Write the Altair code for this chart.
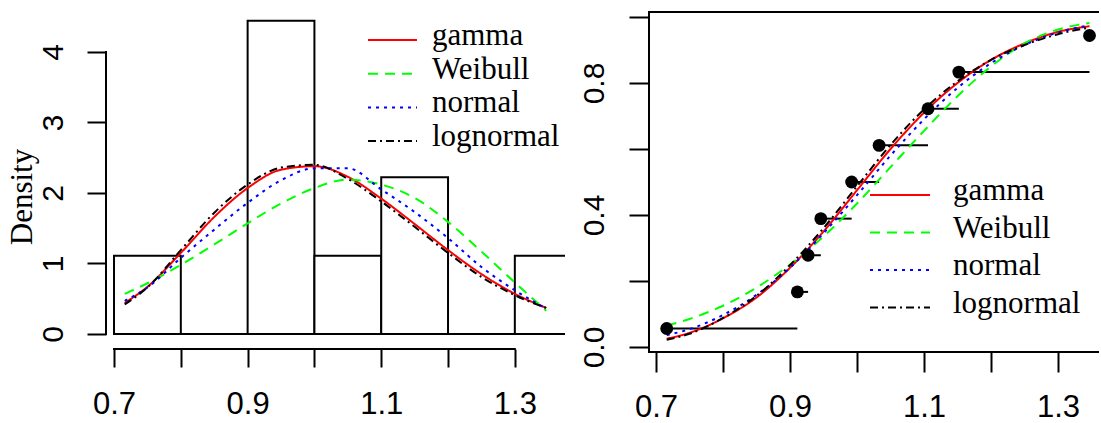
import altair as alt
import pandas as pd

# ---------------- data ----------------
series = ["gamma", "Weibull", "normal", "lognormal"]
series_colors = ["#FF0000", "#00FF00", "#0000FF", "#000000"]
series_dashes = [[1, 0], [10, 7], [3, 5], [8, 4, 2, 4]]

# histogram (density scale)
bin_start = [0.7, 0.8, 0.9, 1.0, 1.1, 1.2, 1.3]
bin_end = [0.8, 0.9, 1.0, 1.1, 1.2, 1.3, 1.4]
bin_density = [1.111, 0.0, 4.444, 1.111, 2.222, 0.0, 1.111]

# fitted densities / cdfs read at these x positions
curve_x = [0.716, 0.75, 0.8, 0.85, 0.9, 0.95, 1.0, 1.05, 1.1, 1.15, 1.2, 1.25, 1.3, 1.347]
dens_gamma = [0.44, 0.67, 1.15, 1.66, 2.07, 2.33, 2.38, 2.23, 1.92, 1.56, 1.19, 0.85, 0.57, 0.37]
dens_weibull = [0.57, 0.72, 0.98, 1.27, 1.57, 1.85, 2.07, 2.19, 2.12, 1.93, 1.59, 1.17, 0.73, 0.33]
dens_normal = [0.47, 0.66, 1.08, 1.48, 1.86, 2.18, 2.35, 2.35, 2.05, 1.73, 1.36, 0.95, 0.62, 0.36]
dens_lognormal = [0.42, 0.66, 1.19, 1.72, 2.12, 2.36, 2.40, 2.20, 1.88, 1.52, 1.15, 0.81, 0.55, 0.37]

cdf_gamma = [0.025, 0.043, 0.087, 0.150, 0.240, 0.350, 0.475, 0.600, 0.710, 0.800, 0.870, 0.920, 0.955, 0.972]
cdf_weibull = [0.065, 0.085, 0.125, 0.180, 0.250, 0.335, 0.435, 0.545, 0.655, 0.760, 0.850, 0.920, 0.962, 0.982]
cdf_normal = [0.036, 0.054, 0.097, 0.158, 0.240, 0.345, 0.460, 0.580, 0.690, 0.785, 0.860, 0.915, 0.953, 0.975]
cdf_lognormal = [0.022, 0.040, 0.088, 0.155, 0.248, 0.360, 0.487, 0.612, 0.720, 0.805, 0.870, 0.915, 0.948, 0.968]

# empirical points
obs_x = [0.716, 0.911, 0.927, 0.946, 0.992, 1.033, 1.106, 1.152, 1.347]
obs_p = [0.056, 0.167, 0.278, 0.389, 0.500, 0.611, 0.722, 0.833, 0.944]

x_ticks = [0.7, 0.8, 0.9, 1.0, 1.1, 1.2, 1.3]
dens_ticks = [0, 1, 2, 3, 4]
cdf_ticks = [0.0, 0.2, 0.4, 0.6, 0.8, 1.0]

# ---------------- tables ----------------
hist_df = pd.DataFrame({"start": bin_start, "end": bin_end, "density": bin_density})

dens_vals = [dens_gamma, dens_weibull, dens_normal, dens_lognormal]
cdf_vals = [cdf_gamma, cdf_weibull, cdf_normal, cdf_lognormal]
dens_df = pd.DataFrame([
    {"dist": s, "x": x, "y": v, "order": i}
    for s, vals in zip(series, dens_vals)
    for i, (x, v) in enumerate(zip(curve_x, vals))
])
cdf_df = pd.DataFrame([
    {"dist": s, "x": x, "y": v, "order": i}
    for s, vals in zip(series, cdf_vals)
    for i, (x, v) in enumerate(zip(curve_x, vals))
])
pts_df = pd.DataFrame({"x": obs_x, "p": obs_p})
seg_df = pd.DataFrame({"x0": obs_x[:-1], "x1": obs_x[1:], "p": obs_p[:-1]})

# ---------------- layout ----------------
LW, LH = 459, 337          # left plot area
RW, RH = 452, 340          # right plot area
FONT_SANS = "Liberation Sans"
FONT_SERIF = "Liberation Serif"

color_scale = alt.Scale(domain=series, range=series_colors)
dash_scale = alt.Scale(domain=series, range=series_dashes)

lx = alt.Scale(domain=[0.688, 1.3751], nice=False, zero=False)
ly = alt.Scale(domain=[-0.2128, 4.567], nice=False, zero=False)
rx = alt.Scale(domain=[0.68955, 1.36418], nice=False, zero=False)
ry = alt.Scale(domain=[-0.01515, 1.01515], nice=False, zero=False)


def x_axis(tick, pad):
    return alt.Axis(values=x_ticks, format=".1f",
                    labelExpr="round(datum.value*10) % 2 == 1 ? datum.label : ''",
                    domain=False, grid=False, tickSize=tick, tickWidth=2,
                    tickColor="black", labelFont=FONT_SANS, labelFontSize=31,
                    labelColor="black", labelPadding=pad, title=None,
                    labelFlush=False, labelOverlap=False)


left_x_axis = x_axis(18, 22)
right_x_axis = x_axis(20, 20)

left_y_axis = alt.Axis(values=dens_ticks, format="d", domain=False, grid=False,
                       tickSize=19, tickWidth=2, tickColor="black",
                       labelAngle=270, labelAlign="center", labelBaseline="middle",
                       labelFont=FONT_SANS, labelFontSize=30, labelColor="black",
                       labelPadding=34, title=None, labelFlush=False, labelOverlap=False)

right_y_axis = alt.Axis(values=cdf_ticks, format=".1f",
                        labelExpr="round(datum.value*10) % 4 == 0 ? datum.label : ''",
                        domain=False, grid=False,
                        tickSize=20, tickWidth=2, tickColor="black",
                        labelAngle=270, labelAlign="center", labelBaseline="middle",
                        labelFont=FONT_SANS, labelFontSize=30, labelColor="black",
                        labelPadding=35, title=None, labelFlush=False, labelOverlap=False)

one = pd.DataFrame({"k": [0]})

# ---------------- left panel: histogram + densities ----------------
bars = alt.Chart(hist_df).mark_rect(fill="white", stroke="black", strokeWidth=2,
                                    clip=True).encode(
    x=alt.X("start:Q", scale=lx, axis=left_x_axis),
    x2="end:Q",
    y=alt.Y("density:Q", scale=ly, axis=left_y_axis),
    y2=alt.Y2(datum=0),
)

dens_lines = alt.Chart(dens_df).mark_line(strokeWidth=2, interpolate="monotone").encode(
    x=alt.X("x:Q", scale=lx, axis=left_x_axis),
    y=alt.Y("y:Q", scale=ly, axis=left_y_axis),
    color=alt.Color("dist:N", scale=color_scale, legend=None),
    strokeDash=alt.StrokeDash("dist:N", scale=dash_scale, legend=None),
    order="order:Q",
)

axis_lines_df = pd.DataFrame({"x0": [x_ticks[0]], "x1": [x_ticks[-1]],
                              "y0": [dens_ticks[0]], "y1": [dens_ticks[-1]]})
left_xline = alt.Chart(axis_lines_df).mark_rule(color="black", strokeWidth=2,
                                                strokeCap="square").encode(
    x=alt.X("x0:Q", scale=lx, axis=left_x_axis), x2="x1:Q", y=alt.value(LH))
left_yline = alt.Chart(axis_lines_df).mark_rule(color="black", strokeWidth=2,
                                                strokeCap="square").encode(
    x=alt.value(0), y=alt.Y("y0:Q", scale=ly, axis=left_y_axis), y2="y1:Q")

density_title = alt.Chart(pd.DataFrame({"t": ["Density"]})).mark_text(
    angle=270, font=FONT_SERIF, fontSize=31, align="center", baseline="middle",
    color="black").encode(x=alt.value(-83), y=alt.value(185), text="t:N")

# invisible frame to pin the whole picture's extent (0..423 px, from x=0)
frame = alt.Chart(one).mark_rule(opacity=0, strokeWidth=0).encode(
    x=alt.value(-106), y=alt.value(-12), y2=alt.value(411))

leg_left = pd.DataFrame({"name": series, "ly": [28 + 33.7 * i for i in range(4)]})
leg_left["ty"] = leg_left["ly"] + 5
leg_left_lines = alt.Chart(leg_left).mark_rule(strokeWidth=2).encode(
    x=alt.value(262), x2=alt.value(311),
    y=alt.Y("ly:Q", scale=None, axis=None),
    color=alt.Color("name:N", scale=color_scale, legend=None),
    strokeDash=alt.StrokeDash("name:N", scale=dash_scale, legend=None),
)
leg_left_text = alt.Chart(leg_left).mark_text(
    align="left", baseline="alphabetic", font=FONT_SERIF, fontSize=31,
    color="black").encode(x=alt.value(326), y=alt.Y("ty:Q", scale=None, axis=None),
                          text="name:N")

left = alt.layer(bars, dens_lines, left_xline, left_yline, density_title,
                 leg_left_lines, leg_left_text, frame).properties(width=LW, height=LH)

# ---------------- right panel: empirical and fitted CDFs ----------------
segs = alt.Chart(seg_df).mark_rule(color="black", strokeWidth=2).encode(
    x=alt.X("x0:Q", scale=rx, axis=right_x_axis),
    x2="x1:Q",
    y=alt.Y("p:Q", scale=ry, axis=right_y_axis),
)
pts = alt.Chart(pts_df).mark_circle(size=165, color="black", opacity=1).encode(
    x=alt.X("x:Q", scale=rx, axis=right_x_axis),
    y=alt.Y("p:Q", scale=ry, axis=right_y_axis),
)
cdf_lines = alt.Chart(cdf_df).mark_line(strokeWidth=2, interpolate="monotone").encode(
    x=alt.X("x:Q", scale=rx, axis=right_x_axis),
    y=alt.Y("y:Q", scale=ry, axis=right_y_axis),
    color=alt.Color("dist:N", scale=color_scale, legend=None),
    strokeDash=alt.StrokeDash("dist:N", scale=dash_scale, legend=None),
    order="order:Q",
)
box_left = alt.Chart(one).mark_rule(color="black", strokeWidth=2, strokeCap="square").encode(
    x=alt.value(0), y=alt.value(0), y2=alt.value(RH))
box_top = alt.Chart(one).mark_rule(color="black", strokeWidth=2, strokeCap="square").encode(
    x=alt.value(0), x2=alt.value(RW - 3), y=alt.value(0))
box_bottom = alt.Chart(one).mark_rule(color="black", strokeWidth=2, strokeCap="square").encode(
    x=alt.value(0), x2=alt.value(RW - 3), y=alt.value(RH))

leg_right = pd.DataFrame({"name": series, "ly": [183 + 37.5 * i for i in range(4)]})
leg_right["ty"] = leg_right["ly"] + 5
leg_right_lines = alt.Chart(leg_right).mark_rule(strokeWidth=2).encode(
    x=alt.value(221), x2=alt.value(281),
    y=alt.Y("ly:Q", scale=None, axis=None),
    color=alt.Color("name:N", scale=color_scale, legend=None),
    strokeDash=alt.StrokeDash("name:N", scale=dash_scale, legend=None),
)
leg_right_text = alt.Chart(leg_right).mark_text(
    align="left", baseline="alphabetic", font=FONT_SERIF, fontSize=31,
    color="black").encode(x=alt.value(304), y=alt.Y("ty:Q", scale=None, axis=None),
                          text="name:N")

right = alt.layer(segs, cdf_lines, pts, box_left, box_top, box_bottom,
                  leg_right_lines, leg_right_text).properties(width=RW, height=RH)

chart = alt.hconcat(left, right, spacing=84, bounds="flush").properties(
    padding=0, background="white"
).configure_view(stroke=None)

chart.save("out.html", embed_options={"renderer": "svg", "actions": False})
